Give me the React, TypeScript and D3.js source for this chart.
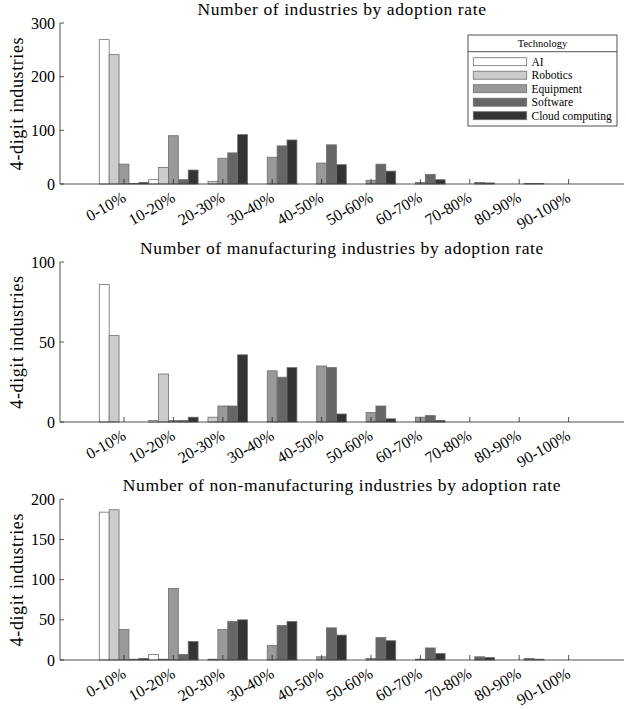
import React from "react";
import * as d3 from "d3";

const categories = ["0-10%", "10-20%", "20-30%", "30-40%", "40-50%", "50-60%", "60-70%", "70-80%", "80-90%", "90-100%"];
const technologies = ["AI", "Robotics", "Equipment", "Software", "Cloud computing"];
const techColors = ["#ffffff", "#cccccc", "#999999", "#666666", "#333333"];

// Panel 1: all industries
const allAI = [269, 8, 0, 0, 0, 0, 0, 0, 0, 0];
const allRobotics = [241, 31, 5, 0, 0, 0, 0, 0, 0, 0];
const allEquipment = [37, 90, 48, 50, 39, 7, 3, 0, 0, 0];
const allSoftware = [1, 8, 58, 71, 73, 37, 18, 3, 1, 0];
const allCloud = [3, 26, 92, 82, 36, 24, 8, 2, 1, 0];

// Panel 2: manufacturing
const manAI = [86, 1, 0, 0, 0, 0, 0, 0, 0, 0];
const manRobotics = [54, 30, 3, 0, 0, 0, 0, 0, 0, 0];
const manEquipment = [0, 1, 10, 32, 35, 6, 3, 0, 0, 0];
const manSoftware = [0, 1, 10, 28, 34, 10, 4, 0, 0, 0];
const manCloud = [0, 3, 42, 34, 5, 2, 1, 0, 0, 0];

// Panel 3: non-manufacturing
const nonAI = [184, 7, 0, 0, 0, 0, 0, 0, 0, 0];
const nonRobotics = [187, 1, 1, 0, 0, 0, 0, 0, 0, 0];
const nonEquipment = [38, 89, 38, 18, 4, 2, 1, 0, 0, 0];
const nonSoftware = [1, 7, 48, 43, 40, 28, 15, 4, 2, 0];
const nonCloud = [2, 23, 50, 48, 31, 24, 8, 3, 1, 0];

const ticks1 = [0, 100, 200, 300];
const ticks2 = [0, 50, 100];
const ticks3 = [0, 50, 100, 150, 200];

const FONT = "'Liberation Serif', 'DejaVu Serif', serif";
const AXIS = "#262626";

const X0 = 60;
const X1 = 624;
// group index scale (1..10 -> group centers)
const xIdx = d3.scaleLinear().domain([1, 10]).range([124, 568.6]);
const groupW = xIdx(2) - xIdx(1);
const barW = groupW / 5;

type PanelProps = {
  title: string;
  series: number[][];
  yMax: number;
  ticks: number[];
  yBottom: number;
  yTop: number;
  legend?: boolean;
};

function Panel({ title, series, yMax, ticks, yBottom, yTop, legend }: PanelProps) {
  const y = d3.scaleLinear().domain([0, yMax]).range([yBottom, yTop]);
  return (
    <g>
      <text
        x={(X0 + X1) / 2}
        y={yTop - 8}
        textAnchor="middle"
        fontSize={17.5}
        letterSpacing={0.6}
        fontFamily={FONT}
        fill="#000"
      >
        {title}
      </text>
      {series.map((vals, k) =>
        vals.map((v, i) => {
          const cx = xIdx(i + 1);
          const x = cx + (k - 2) * barW - barW / 2;
          return (
            <rect
              key={`${k}-${i}`}
              x={x}
              y={y(v)}
              width={barW}
              height={y(0) - y(v)}
              fill={techColors[k]}
              stroke="#6e6e6e"
              strokeWidth={0.8}
            />
          );
        })
      )}
      {/* axes */}
      <line x1={X0} x2={X0} y1={yTop} y2={yBottom} stroke={AXIS} strokeWidth={0.8} />
      <line x1={X0} x2={X1} y1={yBottom} y2={yBottom} stroke={AXIS} strokeWidth={0.8} />
      {ticks.map((t) => (
        <g key={t}>
          <line x1={X0} x2={X0 + 4} y1={y(t)} y2={y(t)} stroke={AXIS} strokeWidth={0.8} />
          <text x={X0 - 5} y={y(t)} dy="0.35em" textAnchor="end" fontSize={16} fontFamily={FONT} fill="#000">
            {t}
          </text>
        </g>
      ))}
      {categories.map((c, i) => {
        const cx = xIdx(i + 1);
        return (
          <g key={c}>
            <line x1={cx} x2={cx} y1={yBottom} y2={yBottom - 5} stroke={AXIS} strokeWidth={0.8} />
            <text
              transform={`translate(${cx + 3},${yBottom + 16.5}) rotate(-30)`}
              textAnchor="end"
              fontSize={16}
              fontFamily={FONT}
              fill="#000"
            >
              {c}
            </text>
          </g>
        );
      })}
      <text
        transform={`translate(23,${(yTop + yBottom) / 2}) rotate(-90)`}
        textAnchor="middle"
        fontSize={18}
        letterSpacing={0.6}
        fontFamily={FONT}
        fill="#000"
      >
        4-digit industries
      </text>
      {legend && (
        <g>
          <rect x={468} y={35} width={149} height={91} fill="#fff" stroke={AXIS} strokeWidth={0.8} />
          <line x1={468} x2={617} y1={51.7} y2={51.7} stroke={AXIS} strokeWidth={0.8} />
          <text x={542.5} y={47} textAnchor="middle" fontSize={10.5} fontFamily={FONT} fill="#000">
            Technology
          </text>
          {technologies.map((t, k) => {
            const cy = 61.7 + k * 13.5;
            return (
              <g key={t}>
                <rect x={473.3} y={cy - 4} width={53.4} height={8} fill={techColors[k]} stroke="#6e6e6e" strokeWidth={0.8} />
                <text x={531.5} y={cy} dy="0.35em" fontSize={11.5} fontFamily={FONT} fill="#000">
                  {t}
                </text>
              </g>
            );
          })}
        </g>
      )}
    </g>
  );
}

export default function App() {
  return (
    <svg
      width={626}
      height={709}
      style={{ position: "absolute", left: 0, top: 0, background: "#fff" }}
    >
      <rect x={0} y={0} width={626} height={709} fill="#fff" />
      <Panel
        title="Number of industries by adoption rate"
        series={[allAI, allRobotics, allEquipment, allSoftware, allCloud]}
        yMax={300}
        ticks={ticks1}
        yBottom={184}
        yTop={23}
        legend
      />
      <Panel
        title="Number of manufacturing industries by adoption rate"
        series={[manAI, manRobotics, manEquipment, manSoftware, manCloud]}
        yMax={100}
        ticks={ticks2}
        yBottom={422}
        yTop={262}
      />
      <Panel
        title="Number of non-manufacturing industries by adoption rate"
        series={[nonAI, nonRobotics, nonEquipment, nonSoftware, nonCloud]}
        yMax={200}
        ticks={ticks3}
        yBottom={660}
        yTop={499.3}
      />
    </svg>
  );
}
